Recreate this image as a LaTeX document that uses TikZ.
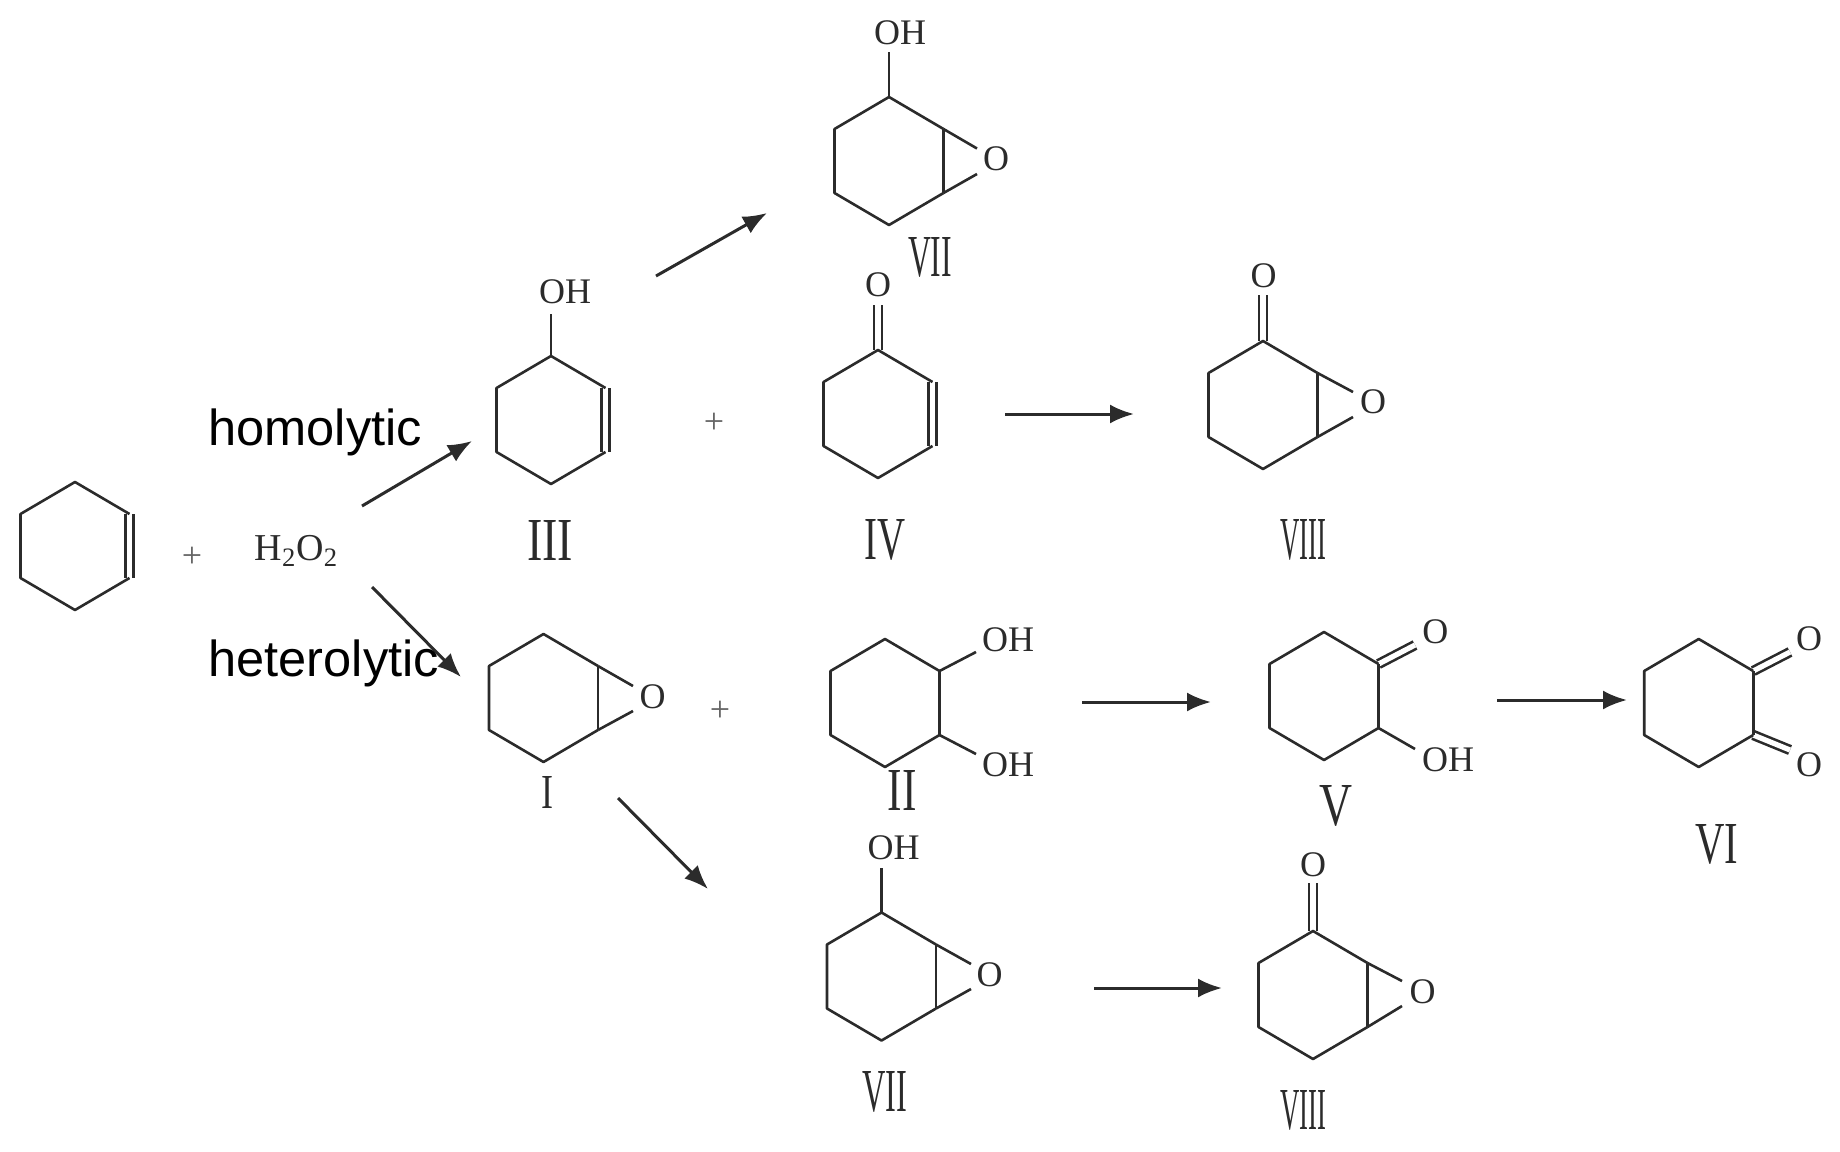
\documentclass[tikz,border=0pt]{standalone}
\usepackage{graphicx}
\usepackage{fontspec}
\setmainfont{Liberation Serif}
\newfontfamily\labelfont{Liberation Sans}
\usetikzlibrary{arrows.meta, positioning}

\definecolor{bondcol}{HTML}{2B2B2B}
\newdimen\pxu
\pxu=.5pt

% ring corners, named by centre
\newcommand{\ring}[3]{
  \coordinate (#1-t) at (#2,#3-64);
  \coordinate (#1-ur) at (#2+54.5,#3-32);
  \coordinate (#1-lr) at (#2+54.5,#3+32);
  \coordinate (#1-b) at (#2,#3+64);
  \coordinate (#1-ll) at (#2-54.5,#3+32);
  \coordinate (#1-ul) at (#2-54.5,#3-32);
}
\newcommand{\ringbonds}[1]{
  \draw[bond] (#1-ur) -- (#1-t) -- (#1-ul) -- (#1-ll) -- (#1-b) -- (#1-lr);
}
\newcommand{\numeral}[6]{
  \node[numeral] (#1) at (#2,#3) {\resizebox{#4\pxu}{#5\pxu}{#6}};
}

\tikzset{
  bond/.style = {line width=1.3pt, draw=bondcol, line join=round},
  dbond/.style = {bond, double, double distance=2.6pt},
  reaction/.style = {line width=1.5pt, draw=bondcol, -{Latex[length=12pt, width=9.5pt]}},
  atom/.style = {font=\fontsize{18}{20}\selectfont, text=bondcol, inner sep=0pt},
  numeral/.style = {text=bondcol, inner sep=0pt},
  plus/.style = {font=\fontsize{18}{20}\selectfont, text=black!60, inner sep=0pt},
  route/.style = {font=\labelfont\fontsize{25.3}{28}\selectfont, inner sep=0pt, anchor=base west},
}

\begin{document}
\begin{tikzpicture}[x=.5pt, y=-.5pt]

\useasboundingbox (0,0) rectangle (1840,1151);

\ring{cyc}{75}{546}
\ring{ol}{551}{420}
\ring{en}{878}{414}
\ring{epo}{543.5}{698}
\ring{diol}{885}{703}
\ring{epol}{889}{161}
\ring{epon}{1263}{405}
\ring{hk}{1324}{696}
\ring{dk}{1698.7}{703}
\ring{epolb}{881.5}{976.5}
\ring{eponb}{1313}{995}

% double bonds go under the rings
\draw[dbond] (cyc-ur) -- (cyc-lr);
\draw[dbond] (ol-ur) -- (ol-lr);
\draw[dbond] (en-ur) -- (en-lr);
\draw[dbond] (en-t) -- (878,305);
\draw[dbond] (epon-t) -- (1263,295);
\draw[dbond] (eponb-t) -- (1313,883);
\draw[dbond] (hk-ur) -- (1415,645);
\draw[dbond] (dk-ur) -- (1790,652);
\draw[dbond] (dk-lr) -- (1790,750);

\ringbonds{cyc}
\ringbonds{ol}
\ringbonds{en}
\ringbonds{epo}
\ringbonds{diol}
\ringbonds{epol}
\ringbonds{epon}
\ringbonds{hk}
\ringbonds{dk}
\ringbonds{epolb}
\ringbonds{eponb}

% atoms
\node[atom] (olOH) at (565,292) {OH};
\node[atom] (enO) at (878,285) {O};
\node[atom] (epoO) at (652.7,697) {O};
\node[atom] (diolOHa) at (1008,640) {OH};
\node[atom] (diolOHb) at (1008,765) {OH};
\node[atom] (epolOH) at (900,33) {OH};
\node[atom] (epolO) at (996,159) {O};
\node[atom] (eponOa) at (1263.5,275.5) {O};
\node[atom] (eponOb) at (1373,402) {O};
\node[atom] (hkO) at (1435.4,631.6) {O};
\node[atom] (hkOH) at (1448,760) {OH};
\node[atom] (dkOa) at (1809,638.7) {O};
\node[atom] (dkOb) at (1809,764.5) {O};
\node[atom] (epolbOH) at (893.5,848) {OH};
\node[atom] (epolbO) at (989.6,975) {O};
\node[atom] (eponbOa) at (1313,865) {O};
\node[atom] (eponbOb) at (1422.6,992) {O};

% single bonds to atoms
\draw[bond] (ol-t) -- (551,314);
\draw[bond] (epol-t) -- (889,52);
\draw[bond] (epolb-t) -- (881.5,868);
\draw[bond] (diol-ur) -- (diol-lr);
\draw[bond] (diol-ur) -- (976,652);
\draw[bond] (diol-lr) -- (976,754);
\draw[bond] (hk-ur) -- (hk-lr);
\draw[bond] (hk-lr) -- (1415,749);
\draw[bond] (dk-ur) -- (dk-lr);

% three-membered rings
\draw[bond] (epo-ur) -- (epo-lr);
\draw[bond] (epo-ur) -- (633,686);
\draw[bond] (epo-lr) -- (633,711);
\draw[bond] (epol-ur) -- (epol-lr);
\draw[bond] (epol-ur) -- (977,148.5);
\draw[bond] (epol-lr) -- (977,174);
\draw[bond] (epon-ur) -- (epon-lr);
\draw[bond] (epon-ur) -- (1353,392);
\draw[bond] (epon-lr) -- (1353,417);
\draw[bond] (epolb-ur) -- (epolb-lr);
\draw[bond] (epolb-ur) -- (971,964);
\draw[bond] (epolb-lr) -- (971,989);
\draw[bond] (eponb-ur) -- (eponb-lr);
\draw[bond] (eponb-ur) -- (1402,981);
\draw[bond] (eponb-lr) -- (1402,1006);

% arrows
\coordinate (homoS) at (362,506);
\coordinate (homoE) at (472,441);
\coordinate (hetS) at (372,587);
\coordinate (hetE) at (461,677);
\coordinate (olS) at (656,276);
\coordinate (olE) at (767,213);
\coordinate (enS) at (1005,414);
\coordinate (enE) at (1134,414);
\coordinate (diolS) at (1082,702);
\coordinate (diolE) at (1211,702);
\coordinate (hkS) at (1497,700);
\coordinate (hkE) at (1627,700);
\coordinate (epoS) at (618,798);
\coordinate (epoE) at (708,889);
\coordinate (epolS) at (1094,988);
\coordinate (epolE) at (1222,988);

\draw[reaction] (homoS) -- (homoE);
\draw[reaction] (hetS) -- (hetE);
\draw[reaction] (olS) -- (olE);
\draw[reaction] (enS) -- (enE);
\draw[reaction] (diolS) -- (diolE);
\draw[reaction] (hkS) -- (hkE);
\draw[reaction] (epoS) -- (epoE);
\draw[reaction] (epolS) -- (epolE);

% reagents and routes
\node[plus] (plusA) at (192,557) {+};
\node[plus] (plusB) at (714,423) {+};
\node[plus] (plusC) at (720,711) {+};
\node[font=\fontsize{19}{22}\selectfont, text=bondcol, inner sep=0pt] (perox) at (296.5,551) {H\textsubscript{2}O\textsubscript{2}};
\node[route] (homo) at (208,445) {homolytic};
\node[route] (het) at (208,676) {heterolytic};

% compound numbers
\numeral{numIII}{550}{540}{46}{40}{III}
\numeral{numIV}{885}{540}{41}{40}{IV}
\numeral{numVIIIa}{1303}{540}{46}{40}{VIII}
\numeral{numVIIa}{930}{257}{44}{39}{VII}
\numeral{numI}{547}{792}{12}{32}{I}
\numeral{numII}{902}{790}{29}{40}{II}
\numeral{numV}{1336}{806}{33}{40}{V}
\numeral{numVI}{1717}{844}{43}{39}{VI}
\numeral{numVIIb}{885}{1092}{45}{40}{VII}
\numeral{numVIIIb}{1303}{1110}{46}{39}{VIII}

\end{tikzpicture}
\end{document}
